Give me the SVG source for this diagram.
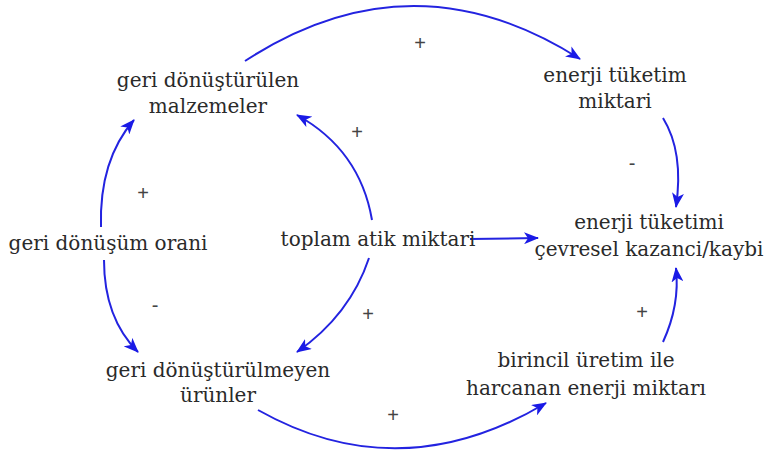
<svg xmlns="http://www.w3.org/2000/svg" width="767" height="456" viewBox="0 0 767 456">
<style>
.t{font-family:"DejaVu Serif","Liberation Serif",serif;font-size:20px;fill:#2a2a2a;text-anchor:middle}
.s{font-family:"Liberation Sans",sans-serif;font-size:20px;fill:#444;text-anchor:middle}
.c{fill:none;stroke:#2323e0;stroke-width:2;marker-end:url(#ah)}
</style>
<defs>
<marker id="ah" markerUnits="userSpaceOnUse" markerWidth="16" markerHeight="12" refX="14" refY="6" orient="auto">
<path d="M0,0 L15,6 L0,12 L4,6 Z" fill="#1a1ae6"/>
</marker>
</defs>
<rect width="767" height="456" fill="#fff"/>
<g id="connectors">
<path class="c" d="M245,61 Q412,-48 580,59"/>
<path class="c" d="M663,118 Q684,152 676,207"/>
<path class="c" d="M101,227 Q99,160 134,120"/>
<path class="c" d="M104,260 Q104,318 138,352"/>
<path class="c" d="M372,220 Q360,150 297,115"/>
<path class="c" d="M369,258 Q350,315 297,352"/>
<path class="c" d="M470,239 L538,238"/>
<path class="c" d="M258,410 Q400,490 546,403"/>
<path class="c" d="M663,342 Q680,305 676,268"/>
</g>
<g id="labels">
<text class="s" x="420" y="50">+</text>
<text class="s" x="632" y="170">-</text>
<text class="s" x="143" y="200">+</text>
<text class="s" x="155" y="312">-</text>
<text class="s" x="357" y="139">+</text>
<text class="s" x="368" y="321">+</text>
<text class="s" x="393" y="422">+</text>
<text class="s" x="642" y="319">+</text>
</g>
<g id="n1"><text class="t" x="208" y="87">geri dönüştürülen</text><text class="t" x="208" y="113">malzemeler</text></g>
<g id="n2"><text class="t" x="615" y="82">enerji tüketim</text><text class="t" x="615" y="108">miktari</text></g>
<g id="n3"><text class="t" x="649" y="229">enerji tüketimi</text><text class="t" x="649" y="256">çevresel kazanci/kaybi</text></g>
<g id="n4"><text class="t" x="108" y="250">geri dönüşüm orani</text></g>
<g id="n5"><text class="t" x="378" y="246">toplam atik miktari</text></g>
<g id="n6"><text class="t" x="218" y="377">geri dönüştürülmeyen</text><text class="t" x="218" y="402">ürünler</text></g>
<g id="n7"><text class="t" x="586" y="367">birincil üretim ile</text><text class="t" x="586" y="395">harcanan enerji miktarı</text></g>
</svg>
